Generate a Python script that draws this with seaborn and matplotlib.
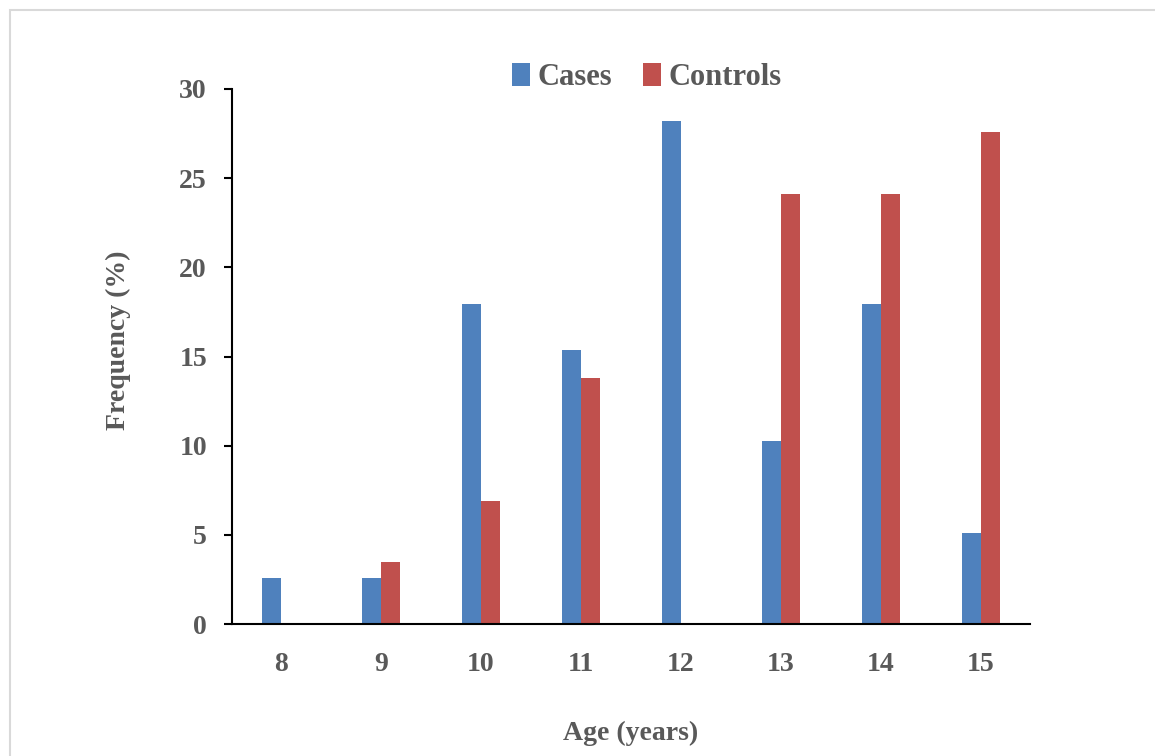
import matplotlib
matplotlib.use("Agg")
import matplotlib.pyplot as plt
import seaborn as sns
import pandas as pd
from matplotlib.patches import Rectangle

ages = ["8", "9", "10", "11", "12", "13", "14", "15"]
cases = [2.56, 2.56, 17.95, 15.38, 28.2, 10.26, 17.95, 5.13]
controls = [0.0, 3.45, 6.9, 13.8, 0.0, 24.14, 24.14, 27.59]

df = pd.DataFrame({
    "Age": ages * 2,
    "Frequency": cases + controls,
    "Group": ["Cases"] * len(ages) + ["Controls"] * len(ages),
})

sns.set_theme(style="white")
plt.rcParams["font.family"] = ["Liberation Serif", "DejaVu Serif"]
plt.rcParams["font.weight"] = "bold"

grey = "#595959"
fig = plt.figure(figsize=(11.55, 7.56), dpi=100)
ax = fig.add_axes([232 / 1155, 1 - 624 / 756, (1030 - 232) / 1155, (624 - 89) / 756])

sns.barplot(data=df, x="Age", y="Frequency", hue="Group", order=ages,
            palette={"Cases": "#4F81BD", "Controls": "#C0504D"},
            width=0.38, saturation=1, linewidth=0, ax=ax, legend=True)

ax.set_xlim(-0.49, 7.49)
ax.set_ylim(0, 30)
ax.set_yticks([0, 5, 10, 15, 20, 25, 30])
for s in ["top", "right"]:
    ax.spines[s].set_visible(False)
for s in ["left", "bottom"]:
    ax.spines[s].set_color("black")
    ax.spines[s].set_linewidth(1.5)
ax.tick_params(axis="y", which="both", left=True, length=6, width=1.5, color="black",
               labelsize=20, labelcolor=grey, pad=12)
ax.tick_params(axis="x", bottom=False, labelsize=20, labelcolor=grey, pad=14)
for lab in ax.get_xticklabels() + ax.get_yticklabels():
    lab.set_fontweight("bold")

ax.set_xlabel("Age (years)", fontsize=20, fontweight="bold", color=grey, labelpad=32)
ax.set_ylabel("Frequency (%)", fontsize=20, fontweight="bold", color=grey, labelpad=34)
ax.yaxis.set_label_coords(-0.127, 0.53)

leg = ax.legend(loc="upper center", bbox_to_anchor=(0.52, 1.1), ncol=2, frameon=False,
                handlelength=0.6, handleheight=0.8, handletextpad=0.25, columnspacing=1.0,
                prop={"size": 22, "weight": "bold"})
for t in leg.get_texts():
    t.set_color(grey)

fig.patches.append(Rectangle((10 / 1155, -0.1), 1.2, 1 - 10 / 756 + 0.1,
                             transform=fig.transFigure, fill=False,
                             edgecolor="#d9d9d9", linewidth=1.5))

fig.savefig("out.png", dpi=100)
